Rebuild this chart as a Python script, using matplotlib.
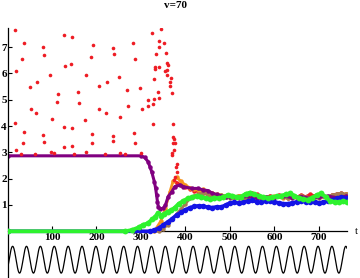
import numpy as np
import matplotlib
matplotlib.use("Agg")
import matplotlib.pyplot as plt

### data ###
# sparse red points before the transition
red_sparse_t = [17, 19, 36, 33, 50, 67, 52, 64, 17, 36, 80, 83, 80, 96, 99, 114, 112,
                128, 130, 128, 145, 143, 146, 159, 161, 176, 175, 191, 193, 188, 206, 206,
                221, 224, 236, 240, 238, 251, 253, 269, 270, 283, 287, 285, 298, 302,
                315, 316, 327, 329, 328, 341, 339, 346, 325, 340, 341, 352, 333, 331,
                331, 341, 330, 356, 358, 361, 354, 358, 359, 367, 365, 365, 369, 371, 373,
                19, 34, 83, 97, 128, 144, 176, 189, 238, 253, 286, 371, 369,
                30, 62, 105, 150, 220, 265, 300,
                374, 376, 374, 370, 380, 378, 380, 377, 375]
red_sparse_v = [7.65, 6.09, 7.17, 6.54, 5.47, 5.68, 4.65, 4.49, 4.10, 3.78, 7.00, 6.70, 3.66,
                5.94, 4.27, 5.21, 4.92, 7.46, 6.28, 3.98, 7.40, 6.36, 3.93, 5.30, 4.87, 5.94,
                4.23, 3.69, 7.08, 6.61, 5.52, 4.66, 4.49, 5.68, 6.96, 6.74, 3.62, 5.85, 4.33,
                5.37, 4.76, 7.17, 6.54, 3.73, 5.44, 4.65, 4.99, 4.76, 4.84, 5.02, 4.08, 5.06,
                5.30, 7.68, 7.53, 7.22, 7.02, 7.15, 6.74, 6.26, 6.16, 6.24, 5.79, 6.77, 6.41,
                6.32, 6.11, 6.13, 5.93, 5.84, 5.69, 5.52, 5.27, 4.07, 3.57,
                3.09, 3.35, 3.41, 3.03, 3.22, 3.24, 3.03, 3.35, 3.43, 2.99, 3.35, 3.35, 2.97,
                2.95, 2.94, 2.96, 2.95, 2.94, 2.95, 2.96,
                3.50, 3.37, 3.09, 2.90, 2.56, 2.46, 2.27, 2.08, 1.95]

# dense series after the transition
band_t = [380, 390, 400, 410, 420, 430, 440, 450, 460, 470, 480, 490, 500, 510, 520,
          530, 540, 550, 560, 570, 580, 590, 600, 610, 620, 630, 640, 650, 660, 670,
          680, 690, 700, 710, 720, 730, 740, 750, 760]
red_band = [1.85, 1.75, 1.68, 1.62, 1.55, 1.50, 1.45, 1.40, 1.35, 1.38, 1.30, 1.36, 1.32,
            1.28, 1.35, 1.30, 1.38, 1.45, 1.40, 1.32, 1.28, 1.35, 1.30, 1.38, 1.33, 1.28,
            1.35, 1.30, 1.38, 1.32, 1.40, 1.35, 1.30, 1.36, 1.30, 1.38, 1.42, 1.45, 1.40]

orange_t = [0, 330, 345, 355, 365, 372, 380, 390, 400, 410, 420, 430, 440, 450, 460, 470,
            480, 490, 500, 520, 540, 560, 580, 600, 620, 640, 660, 680, 700, 720, 740, 760]
orange_v = [0, 0, 0.40, 0.90, 1.50, 1.90, 2.05, 1.90, 1.75, 1.65, 1.60, 1.55, 1.60, 1.50,
            1.45, 1.40, 1.38, 1.35, 1.30, 1.35, 1.28, 1.32, 1.25, 1.33, 1.28, 1.35, 1.30,
            1.27, 1.33, 1.30, 1.38, 1.42]

brown_t = [0, 340, 350, 360, 370, 380, 390, 400, 410, 420, 430, 440, 450, 460, 470, 480,
           490, 500, 510, 520, 530, 540, 550, 560, 570, 580, 590, 600, 610, 620, 630, 640,
           650, 660, 670, 680, 690, 700, 710, 720, 730, 740, 750, 760]
brown_v = [0, 0, 0.10, 0.25, 0.45, 0.65, 0.85, 1.05, 1.25, 1.35, 1.42, 1.45, 1.40, 1.35,
           1.30, 1.38, 1.30, 1.28, 1.25, 1.30, 1.22, 1.28, 1.35, 1.30, 1.25, 1.20, 1.22,
           1.30, 1.35, 1.30, 1.25, 1.30, 1.28, 1.35, 1.30, 1.25, 1.30, 1.25, 1.35, 1.30,
           1.38, 1.42, 1.45, 1.40]

purple_t = [0, 300, 308, 316, 320, 324, 330, 333, 335, 337, 339, 343, 350, 355, 361, 369,
            376, 388, 395, 414, 428, 440, 450, 460, 470, 480, 490, 500, 520, 540, 560, 580,
            600, 620, 640, 660, 680, 700, 720, 740, 760]
purple_v = [2.87, 2.87, 2.81, 2.65, 2.46, 2.27, 1.89, 1.63, 1.38, 1.13, 0.94, 0.86, 0.87,
            1.00, 1.32, 1.50, 1.70, 1.76, 1.70, 1.63, 1.63, 1.57, 1.55, 1.45, 1.40, 1.35,
            1.30, 1.32, 1.27, 1.33, 1.25, 1.30, 1.28, 1.35, 1.27, 1.32, 1.25, 1.30, 1.34,
            1.28, 1.33]

blue_t = [0, 320, 330, 340, 350, 360, 370, 380, 390, 400, 410, 420, 430, 440, 450, 460,
          470, 480, 490, 500, 510, 520, 530, 540, 550, 560, 570, 580, 590, 600, 610, 620,
          630, 640, 650, 660, 670, 680, 690, 700, 710, 720, 730, 740, 750, 762]
blue_v = [0, 0, 0.05, 0.12, 0.25, 0.35, 0.48, 0.62, 0.72, 0.82, 0.90, 0.95, 0.97, 0.95,
          0.92, 0.90, 0.93, 0.92, 1.00, 1.08, 1.10, 1.07, 1.10, 1.15, 1.18, 1.12, 1.10,
          1.15, 1.17, 1.12, 1.08, 1.05, 1.05, 1.08, 1.12, 1.15, 1.12, 1.10, 1.12, 1.08,
          1.10, 1.15, 1.20, 1.25, 1.30, 1.27]

green_t = [0, 265, 280, 295, 305, 315, 325, 332, 338, 345, 352, 360, 368, 376, 385, 395,
           405, 415, 425, 435, 445, 455, 465, 475, 485, 495, 505, 515, 525, 535, 545, 555,
           565, 575, 585, 595, 605, 615, 625, 635, 645, 655, 665, 675, 685, 695, 705, 715,
           725, 735, 745, 755, 762]
green_v = [0, 0, 0.05, 0.15, 0.25, 0.30, 0.45, 0.55, 0.70, 0.60, 0.65, 0.75, 0.80, 0.90,
           1.05, 1.15, 1.25, 1.30, 1.35, 1.32, 1.25, 1.22, 1.28, 1.25, 1.30, 1.38, 1.35,
           1.30, 1.32, 1.42, 1.47, 1.40, 1.35, 1.30, 1.27, 1.30, 1.33, 1.35, 1.40, 1.44,
           1.35, 1.27, 1.22, 1.20, 1.28, 1.38, 1.44, 1.30, 1.15, 1.12, 1.10, 1.15, 1.10]

# drive signal drawn under the axis
drive_period = 31.2
drive_peak = 11.5
drive_amp = 0.51
drive_offset = -1.08

x_ticks = [100, 200, 300, 400, 500, 600, 700]
y_ticks = [1, 2, 3, 4, 5, 6, 7]

### plotting ###
plt.rcParams['font.family'] = ['Liberation Serif', 'DejaVu Serif']

fig = plt.figure(figsize=(3.6, 2.78), dpi=100)
ax = fig.add_axes([7.5 / 360, 0, (347 - 7.5) / 360, (278 - 28) / 278])
ax.set_xlim(0, 763)
ax.set_ylim(7.73 - 250 / 26.3, 7.73)

ax.plot(red_sparse_t, red_sparse_v, 'o', color='#ee1c24', ms=2.6, mew=0, zorder=3)
ax.plot(band_t, red_band, '-o', color='#ee1c24', lw=2.0, ms=3.2, mew=0, zorder=2)
ax.plot(orange_t, orange_v, '-o', color='#f7941d', lw=2.0, ms=3.2, mew=0, zorder=2)
ax.plot(brown_t, brown_v, '-o', color='#a67c52', lw=2.0, ms=3.2, mew=0, zorder=2)
ax.plot(purple_t, purple_v, '-o', color='#800080', lw=2.2, ms=3.2, mew=0, zorder=2.5)
ax.plot(blue_t, blue_v, '-o', color='#1414e6', lw=2.6, ms=4, mew=0, zorder=3)
ax.plot(green_t, green_v, '-o', color='#2ef22e', lw=2.8, ms=4.2, mew=0, zorder=3.5)

tt = np.linspace(0, 763, 2000)
ax.plot(tt, drive_offset + drive_amp * np.cos(2 * np.pi * (tt - drive_peak) / drive_period),
        color='black', lw=0.9)

for s in ['top', 'right']:
    ax.spines[s].set_visible(False)
ax.spines['bottom'].set_position(('data', 0))
ax.spines['bottom'].set_zorder(1)
ax.spines['left'].set_linewidth(0.9)
ax.spines['bottom'].set_linewidth(0.9)

ax.set_xticks(x_ticks)
ax.set_yticks(y_ticks)
ax.tick_params(axis='x', direction='in', length=3.5, width=0.8, pad=1, labelsize=8)
ax.tick_params(axis='y', direction='in', length=3, width=0.8, pad=0.5, labelsize=8)
for lab in ax.get_xticklabels() + ax.get_yticklabels():
    lab.set_fontweight('bold')

fig.text(176 / 360, 1 - 6 / 278, 'v=70', ha='center', va='center', fontsize=8, fontweight='bold')
fig.text(356 / 360, 1 - 231 / 278, 't', ha='center', va='center', fontsize=8)

fig.savefig('out.png', dpi=100)
